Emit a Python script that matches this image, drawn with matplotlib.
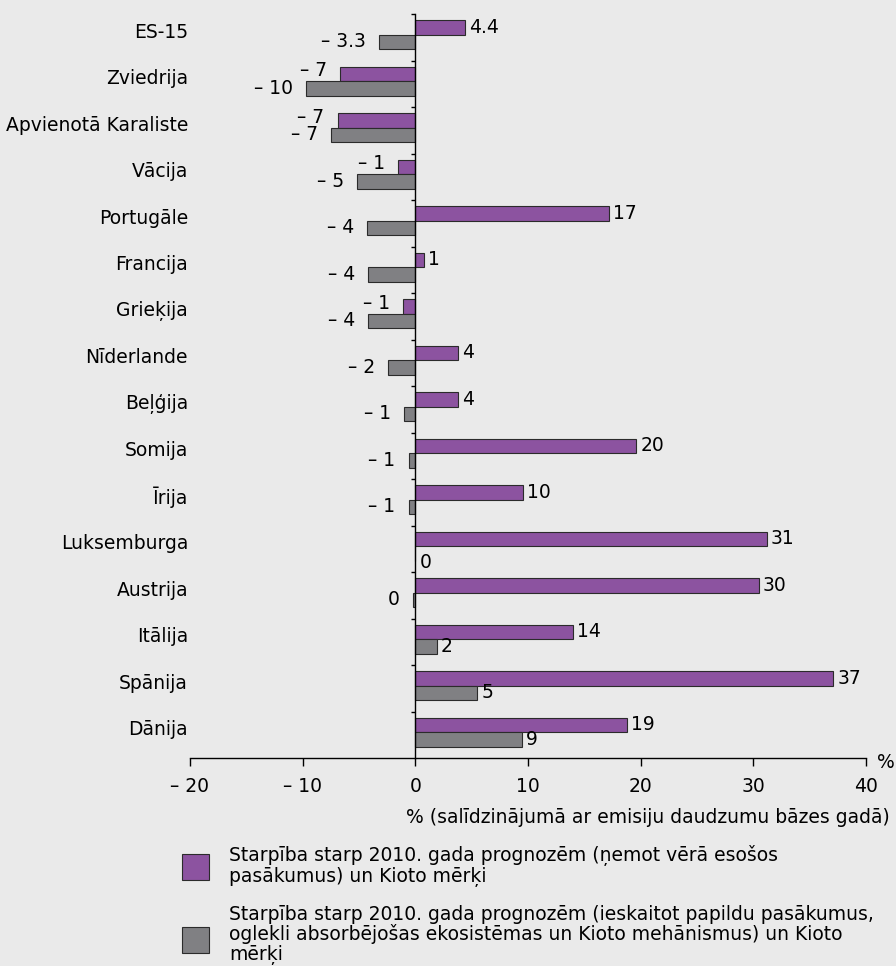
import numpy as np
import matplotlib.pyplot as plt
from matplotlib.patches import Rectangle
from matplotlib.ticker import FixedLocator, FuncFormatter
from matplotlib.transforms import blended_transform_factory

# dati (nolasīti no attēla)
countries = ['ES-15', 'Zviedrija', 'Apvienotā Karaliste', 'Vācija', 'Portugāle',
             'Francija', 'Grieķija', 'Nīderlande', 'Beļģija', 'Somija', 'Īrija',
             'Luksemburga', 'Austrija', 'Itālija', 'Spānija', 'Dānija']
existing = [4.4, -6.7, -6.9, -1.5, 17.2, 0.8, -1.1, 3.8, 3.8, 19.6, 9.6,
            31.2, 30.5, 14.0, 37.1, 18.8]
existing_lbl = ['4.4', '– 7', '– 7', '– 1', '17', '1', '– 1', '4', '4', '20',
                '10', '31', '30', '14', '37', '19']
additional = [-3.2, -9.7, -7.5, -5.2, -4.3, -4.2, -4.2, -2.4, -1.0, -0.6,
              -0.6, 0.0, -0.25, 1.9, 5.5, 9.5]
additional_lbl = ['– 3.3', '– 10', '– 7', '– 5', '– 4', '– 4', '– 4', '– 2',
                  '– 1', '– 1', '– 1', '0', '0', '2', '5', '9']
legend_lbl = ['Starpība starp 2010. gada prognozēm (ņemot vērā esošos\npasākumus) un Kioto mērķi',
              'Starpība starp 2010. gada prognozēm (ieskaitot papildu pasākumus,\n'
              'oglekli absorbējošas ekosistēmas un Kioto mehānismus) un Kioto\nmērķi']

BG = '#EAEAEA'
PURPLE = '#8C53A0'
GREY = '#808083'
EDGE = '#2b2b2b'
FS = 13.5

plt.rcParams['font.family'] = ['DejaVu Sans']

fig = plt.figure(figsize=(8.96, 9.66), dpi=100, facecolor=BG)
ax = fig.add_axes([190 / 896, 1 - 758 / 966, (866 - 190) / 896, (758 - 14) / 966])
ax.set_facecolor(BG)

y = np.arange(len(countries))
h = 0.31
y1 = y - 0.21
y2 = y + 0.10
ax.barh(y1, existing, height=h, color=PURPLE, edgecolor=EDGE, linewidth=0.8)
ax.barh(y2, additional, height=h, color=GREY, edgecolor=EDGE, linewidth=0.8)

for vals, lbls, ys, dy in [(existing, existing_lbl, y1, 3), (additional, additional_lbl, y2, 0)]:
    for v, s, yy in zip(vals, lbls, ys):
        if v > 0:
            ax.annotate(s, (v, yy), xytext=(4, 0), textcoords='offset pixels',
                        ha='left', va='center', fontsize=FS)
        elif v == 0:
            # nulles vērtība - etiķete zem ass
            ax.annotate(s, (v, yy), xytext=(4, -9), textcoords='offset pixels',
                        ha='left', va='center', fontsize=FS)
        else:
            ax.annotate(s, (v, yy), xytext=(-13, dy), textcoords='offset pixels',
                        ha='right', va='center', fontsize=FS)

ax.set_xlim(-20, 40)
ax.set_ylim(len(countries) - 0.5, -0.5)

for s in ['top', 'right']:
    ax.spines[s].set_visible(False)
ax.spines['left'].set_position(('data', 0))
ax.spines['left'].set_linewidth(1.0)
ax.spines['bottom'].set_linewidth(1.0)

ax.yaxis.set_major_locator(FixedLocator(np.arange(-0.5, len(countries) - 0.5, 1)))
ax.yaxis.set_major_formatter(FuncFormatter(lambda v, p: ''))
ax.tick_params(axis='y', length=3, direction='out', width=1.0)

ax.set_xticks([-20, -10, 0, 10, 20, 30, 40])
ax.xaxis.set_major_formatter(FuncFormatter(
    lambda v, p: ('– %d' % abs(v)) if v < 0 else '%d' % v))
ax.tick_params(axis='x', length=6, width=1.0, labelsize=FS, pad=8)

trans = blended_transform_factory(fig.transFigure, ax.transData)
for name, yy in zip(countries, y):
    ax.text(188 / 896, yy - 0.11, name, transform=trans, ha='right',
            va='center', fontsize=FS)

fig.text(877 / 896, 1 - 762 / 966, '%', fontsize=FS, ha='left', va='center')
fig.text(890 / 896, 1 - 823 / 966,
         '% (salīdzinājumā ar emisiju daudzumu bāzes gadā)',
         fontsize=FS, ha='right', va='baseline')

# leģenda (y = pēdējās rindas bāzes līnija)
for (top, color, txt, base) in [(854, PURPLE, legend_lbl[0], 882),
                                (927, GREY, legend_lbl[1], 960)]:
    fig.patches.append(Rectangle((182 / 896, 1 - (top + 26) / 966), 27 / 896, 26 / 966,
                                 transform=fig.transFigure, facecolor=color,
                                 edgecolor=EDGE, linewidth=0.8))
    fig.text(229 / 896, 1 - base / 966, txt, fontsize=FS, ha='left', va='baseline',
             linespacing=1.04)

fig.savefig('out.png', dpi=100, facecolor=BG)
